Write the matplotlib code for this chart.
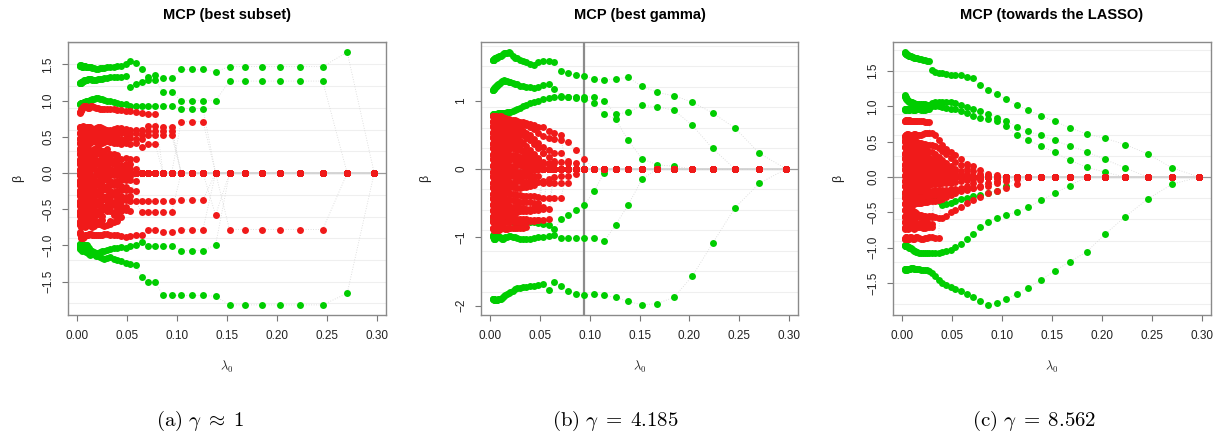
import matplotlib
matplotlib.use("Agg")
import matplotlib.pyplot as plt

plt.rcParams["font.family"] = ["Liberation Sans", "DejaVu Sans"]
plt.rcParams["mathtext.fontset"] = "cm"

GREEN = "#00cd00"
RED = "#f01a1a"

# lambda grid, smallest first; every coefficient path below starts at lambdas[0]
# and is zero for the lambdas after its last listed value
lambdas = [0.0028, 0.0031, 0.0034, 0.0037, 0.0041, 0.0045, 0.0049, 0.0054, 0.0060, 0.0066,
           0.0072, 0.0080, 0.0087, 0.0096, 0.0106, 0.0116, 0.0128, 0.0140, 0.0155, 0.0170,
           0.0187, 0.0206, 0.0227, 0.0249, 0.0274, 0.0301, 0.0332, 0.0365, 0.0401, 0.0441,
           0.0485, 0.0534, 0.0587, 0.0646, 0.0711, 0.0782, 0.0860, 0.0946, 0.1041, 0.1145,
           0.1259, 0.1385, 0.1524, 0.1676, 0.1844, 0.2028, 0.2231, 0.2455, 0.2700, 0.2970]

# ---- (a) best subset ----
green_subset = [
    [1.48, 1.48, 1.49, 1.49, 1.48, 1.48, 1.48, 1.47, 1.47, 1.48, 1.48, 1.48, 1.47, 1.47, 1.47, 1.47, 1.46, 1.46,
     1.45, 1.45, 1.44, 1.44, 1.45, 1.45, 1.45, 1.46, 1.47, 1.47, 1.48,
     1.48, 1.50, 1.55, 1.52, 1.44, 1.33, 1.35, 1.31, 1.31, 1.43, 1.43, 1.43, 1.40, 1.47, 1.47, 1.47, 1.47, 1.47, 1.47, 1.67, 0.0],
    [1.24, 1.24, 1.25, 1.25, 1.25, 1.26, 1.26, 1.26, 1.27, 1.27, 1.28, 1.28, 1.29, 1.29, 1.30, 1.30, 1.30, 1.30,
     1.29, 1.29, 1.29, 1.30, 1.30, 1.30, 1.31, 1.31, 1.32, 1.32, 1.33, 1.33, 1.34,
     1.19, 1.23, 1.26, 1.29, 1.29, 1.12, 1.12, 1.00, 1.00, 1.00, 1.00, 1.27, 1.27, 1.27, 1.27, 1.27, 1.27],
    [0.96, 0.96, 0.96, 0.96, 0.97, 0.97, 0.97, 0.97, 0.97, 0.98, 0.98, 0.98, 0.99, 0.99, 1.00, 1.00, 1.01, 1.01,
     1.02, 1.02, 1.03, 1.03, 1.02, 1.02, 1.01, 1.00, 0.99, 0.98, 0.97, 0.96, 0.95,
     0.93, 0.93, 0.93, 0.93, 0.93, 0.93, 0.93, 0.89, 0.89, 0.89],
    [-1.02, -1.04, -1.05, -1.03, -1.02, -1.05, -1.07, -1.06, -1.05, -1.04, -1.06, -1.08, -1.09, -1.08, -1.10, -1.12,
     -1.13, -1.12, -1.11, -1.12, -1.14, -1.15, -1.16, -1.17, -1.18, -1.17, -1.16, -1.18, -1.20, -1.22, -1.24, -1.25, -1.27,
     -1.43, -1.51, -1.51, -1.69, -1.69, -1.69, -1.69, -1.69, -1.70, -1.82, -1.82, -1.82, -1.82, -1.82, -1.82, -1.66, 0.0],
    [-0.99, -0.98, -0.98, -0.99, -1.00, -1.01, -1.02, -1.03, -1.02, -1.01, -1.00, -0.99, -0.99, -1.00, -1.02, -1.04,
     -1.06, -1.07, -1.08, -1.09, -1.10, -1.10, -1.09, -1.08, -1.07, -1.06, -1.05, -1.04, -1.03, -1.02, -1.03, -1.01, -0.99,
     -0.95, -1.01, -1.01, -1.01, -1.01, -1.07, -1.07, -1.07, -0.99],
]
red_subset = [
    [0.83, 0.84, 0.85, 0.86, 0.87, 0.88, 0.89, 0.90, 0.91, 0.92, 0.93, 0.93, 0.92, 0.91, 0.90, 0.90, 0.91, 0.92,
     0.92, 0.91, 0.90, 0.90, 0.89, 0.89, 0.89, 0.88, 0.88, 0.88, 0.87, 0.87, 0.86, 0.86, 0.85,
     0.83, 0.82, 0.82, 0.0, 0.0, 0.71, 0.71, 0.71],
    [0.62, 0.63, 0.64, 0.63, 0.62, 0.62, 0.63, 0.64, 0.65, 0.64, 0.63, 0.62, 0.62, 0.63, 0.64, 0.64, 0.63, 0.62,
     0.61, 0.61, 0.62, 0.63, 0.63, 0.62, 0.61, 0.60, 0.60, 0.61, 0.62, 0.62, 0.61, 0.60, 0.60,
     0.60, 0.65, 0.65, 0.64, 0.64],
    [0.55, 0.56, 0.56, 0.55, 0.54, 0.54, 0.55, 0.56, 0.57, 0.56, 0.55, 0.54, 0.54, 0.55, 0.56, 0.56, 0.55, 0.54,
     0.53, 0.53, 0.54, 0.55, 0.56, 0.55, 0.54, 0.53, 0.53, 0.54, 0.55, 0.56, 0.55, 0.54, 0.55,
     0.53, 0.58, 0.58, 0.58, 0.58],
    [0.48, 0.47, 0.47, 0.48, 0.49, 0.49, 0.48, 0.47, 0.46, 0.47, 0.48, 0.49, 0.49, 0.48, 0.47, 0.47, 0.48, 0.49,
     0.50, 0.50, 0.49, 0.48, 0.47, 0.48, 0.49, 0.50, 0.50, 0.49, 0.48, 0.47, 0.48, 0.49,
     0.47, 0.47, 0.52, 0.52, 0.52, 0.52],
    [0.42, 0.41, 0.41, 0.42, 0.43, 0.43, 0.42, 0.41, 0.40, 0.41, 0.42, 0.43, 0.43, 0.42, 0.41, 0.41, 0.42, 0.43,
     0.44, 0.44, 0.43, 0.42, 0.41, 0.42, 0.43, 0.44, 0.43, 0.42, 0.41, 0.40, 0.41,
     0.40, 0.41, 0.36, 0.40, 0.40],
    [0.34, 0.33, 0.32, 0.33, 0.35, 0.36, 0.35, 0.33, 0.31, 0.30, 0.31, 0.33, 0.35, 0.36, 0.34, 0.32, 0.30, 0.29,
     0.31, 0.33, 0.35, 0.34, 0.32, 0.30, 0.31, 0.33],
    [0.26, 0.27, 0.28, 0.27, 0.25, 0.24, 0.25, 0.27, 0.28, 0.27, 0.25, 0.24, 0.25, 0.26, 0.28, 0.27, 0.25, 0.24,
     0.23, 0.25, 0.27, 0.28, 0.26, 0.24, 0.23, 0.24, 0.26, 0.27, 0.25],
    [0.19, 0.18, 0.17, 0.18, 0.20, 0.21, 0.20, 0.18, 0.17, 0.18, 0.20, 0.21, 0.20, 0.19, 0.18, 0.17, 0.18, 0.20,
     0.21, 0.20, 0.18, 0.17, 0.18, 0.20, 0.21, 0.20, 0.19, 0.18, 0.19, 0.20, 0.21, 0.20, 0.19],
    [0.12, 0.13, 0.14, 0.13, 0.11, 0.10, 0.11, 0.13, 0.14, 0.13, 0.11, 0.10, 0.11, 0.12, 0.14, 0.13, 0.11, 0.10,
     0.11, 0.13, 0.14, 0.12, 0.11, 0.10, 0.12, 0.13, 0.14, 0.13, 0.12, 0.11, 0.12, 0.13],
    [0.05, 0.04, 0.03, 0.04, 0.06, 0.07, 0.06, 0.04, 0.03, 0.04, 0.06, 0.07, 0.06, 0.05, 0.04, 0.03, 0.04, 0.06,
     0.07, 0.06, 0.04, 0.03, 0.04, 0.05, 0.07, 0.06, 0.05, 0.04, 0.05, 0.06, 0.07, 0.06, 0.05],
    [-0.03, -0.02, -0.01, -0.02, -0.04, -0.05, -0.04, -0.02, -0.01, -0.02, -0.04, -0.05, -0.04, -0.03, -0.02, -0.01,
     -0.02, -0.04, -0.05, -0.04, -0.02, -0.01, -0.02, -0.03, -0.05, -0.04, -0.03, -0.02, -0.03, -0.04, -0.05, -0.04],
    [-0.10, -0.11, -0.12, -0.11, -0.09, -0.08, -0.09, -0.11, -0.12, -0.11, -0.09, -0.08, -0.09, -0.10, -0.12, -0.11,
     -0.09, -0.08, -0.09, -0.11, -0.12, -0.11, -0.10, -0.09, -0.08, -0.10, -0.11, -0.12, -0.11, -0.10, -0.09, -0.10, -0.11],
    [-0.17, -0.16, -0.15, -0.16, -0.18, -0.19, -0.18, -0.16, -0.15, -0.16, -0.18, -0.19, -0.18, -0.17, -0.16, -0.15,
     -0.16, -0.18, -0.19, -0.18, -0.16, -0.15, -0.16, -0.17, -0.19, -0.18, -0.17, -0.16, -0.17, -0.18, -0.19],
    [-0.24, -0.25, -0.26, -0.25, -0.23, -0.22, -0.23, -0.25, -0.26, -0.25, -0.23, -0.22, -0.23, -0.24, -0.26, -0.25,
     -0.23, -0.22, -0.23, -0.25, -0.26, -0.25, -0.24, -0.23, -0.22, -0.24, -0.25, -0.26, -0.25, -0.24, -0.23, -0.24, -0.25,
     -0.38, -0.38, -0.38, -0.38, -0.38, -0.37, -0.37, -0.37],
    [-0.31, -0.30, -0.29, -0.30, -0.32, -0.33, -0.32, -0.30, -0.29, -0.30, -0.32, -0.33, -0.32, -0.31, -0.30, -0.29,
     -0.30, -0.32, -0.33, -0.32, -0.30, -0.29, -0.30, -0.31, -0.33, -0.32, -0.31, -0.30, -0.31, -0.32, -0.33, -0.32],
    [-0.38, -0.39, -0.40, -0.39, -0.37, -0.36, -0.37, -0.39, -0.40, -0.39, -0.37, -0.36, -0.37, -0.38, -0.40, -0.39,
     -0.37, -0.36, -0.37, -0.39, -0.40, -0.39, -0.38, -0.37, -0.36, -0.38, -0.39, -0.40, -0.39, -0.38, -0.37, -0.38, -0.39,
     -0.54, -0.54, -0.54, -0.54, -0.54, 0.0, 0.0, 0.0, -0.58],
    [-0.45, -0.44, -0.43, -0.44, -0.46, -0.47, -0.46, -0.44, -0.43, -0.44, -0.46, -0.47, -0.46, -0.45, -0.44, -0.43,
     -0.44, -0.46, -0.47, -0.46, -0.44, -0.43, -0.44, -0.45, -0.47, -0.46, -0.45, -0.44, -0.45, -0.46, -0.47],
    [-0.52, -0.53, -0.54, -0.53, -0.51, -0.50, -0.51, -0.53, -0.54, -0.53, -0.51, -0.50, -0.51, -0.52, -0.54, -0.53,
     -0.51, -0.50, -0.51, -0.53, -0.54, -0.53, -0.52, -0.51, -0.50, -0.52, -0.53, -0.54, -0.53, -0.52, -0.51, -0.52],
    [-0.59, -0.58, -0.57, -0.58, -0.60, -0.61, -0.60, -0.58, -0.57, -0.58, -0.60, -0.61, -0.60, -0.59, -0.58, -0.57,
     -0.58, -0.60, -0.61, -0.60, -0.58, -0.57, -0.58, -0.59, 0.0, 0.0, 0.0, -0.58, -0.59, -0.60],
    [-0.66, -0.67, -0.68, -0.67, -0.65, -0.64, -0.65, -0.67, -0.68, -0.67, -0.65, -0.64, -0.65, -0.66, -0.68, -0.67,
     -0.65, -0.64, -0.65, -0.67, -0.68, -0.67, -0.66, -0.65, 0.0, 0.0, -0.66, -0.67, -0.66],
    [-0.72, -0.71, -0.70, -0.71, -0.73, -0.74, -0.73, -0.71, -0.70, -0.71, -0.73, -0.74, -0.73, -0.72, -0.71, -0.70,
     -0.71, -0.73, -0.74, -0.73, -0.71, -0.70, -0.71, -0.72, -0.73, -0.72, -0.71],
    [-0.82, -0.83, -0.84, -0.86, -0.88, -0.89, -0.90, -0.90, -0.89, -0.88, -0.87, -0.86, -0.86, -0.85, -0.85, -0.84,
     -0.84, -0.84, -0.85, -0.85, -0.86, -0.86, -0.85, -0.85, -0.84, -0.84, -0.85, -0.86, -0.86, -0.87, -0.88, -0.87, -0.86,
     -0.86, -0.78, -0.78, -0.81, -0.81, -0.78, -0.78, -0.78, 0.0, -0.78, -0.78, -0.78, -0.78, -0.78, -0.78],
]

# ---- (b) best gamma ----
green_best = [
    [1.59, 1.59, 1.60, 1.60, 1.61, 1.61, 1.62, 1.62, 1.63, 1.63, 1.64, 1.64, 1.65, 1.66, 1.66, 1.67, 1.68, 1.69,
     1.69, 1.70, 1.71, 1.69, 1.65, 1.63, 1.62, 1.60, 1.58, 1.56, 1.54, 1.52,
     1.56, 1.58, 1.58, 1.57, 1.44, 1.40, 1.37, 1.36, 1.32, 1.30, 1.32, 1.34, 1.21, 1.12, 1.07, 0.98, 0.82, 0.60, 0.23, 0.0],
    [1.15, 1.16, 1.16, 1.17, 1.17, 1.18, 1.19, 1.20, 1.21, 1.22, 1.23, 1.24, 1.25, 1.26, 1.27, 1.28, 1.29, 1.30,
     1.29, 1.28, 1.27, 1.27, 1.26, 1.25, 1.24, 1.22, 1.21, 1.20, 1.20, 1.19,
     1.20, 1.23, 1.24, 1.17, 1.07, 1.06, 1.06, 1.06, 1.05, 1.00, 0.80, 0.83, 0.93, 0.91, 0.86, 0.64, 0.30],
    [0.79, 0.79, 0.80, 0.80, 0.80, 0.80, 0.81, 0.81, 0.81, 0.81, 0.81, 0.82, 0.82, 0.82, 0.82, 0.82, 0.82, 0.82,
     0.82, 0.83, 0.83, 0.84, 0.85, 0.86, 0.87,
     0.89, 0.92, 0.94, 0.96, 0.98, 1.00, 1.02, 1.04, 1.05, 1.05, 1.05, 1.04, 1.03, 0.97, 0.80, 0.73, 0.42, 0.15, 0.06, 0.04],
    [-1.90, -1.90, -1.91, -1.91, -1.91, -1.92, -1.92, -1.92, -1.92, -1.92, -1.92, -1.91, -1.91, -1.90, -1.90,
     -1.89, -1.87, -1.86, -1.84, -1.83, -1.81, -1.80, -1.78, -1.76, -1.75, -1.74, -1.73, -1.73, -1.72, -1.71,
     -1.70, -1.69, -1.77, -1.65, -1.72, -1.78, -1.83, -1.84, -1.83, -1.85, -1.88, -1.94, -1.99, -1.97, -1.88,
     -1.57, -1.09, -0.57, -0.21, 0.0],
    [-0.97, -0.98, -1.00, -1.01, -1.02, -1.03, -1.02, -1.01, -1.00, -0.99, -0.98, -0.98, -0.99, -1.00, -1.01, -1.02,
     -1.02, -1.01, -1.00, -0.99, -0.98, -0.98, -0.99, -1.00, -1.01, -1.02, -1.03, -1.03, -1.02, -1.01, -1.00, -0.99,
     -0.98, -0.96, -1.01, -1.01, -1.01, -1.01, -1.01, -1.06, -0.82, -0.53, -0.15],
    [-0.71, -0.71, -0.72, -0.72, -0.72, -0.73, -0.73, -0.73, -0.73, -0.74, -0.74, -0.74, -0.74, -0.74, -0.75, -0.75,
     -0.75, -0.75, -0.75, -0.76, -0.76, -0.76, -0.77, -0.77, -0.77, -0.77, -0.78, -0.78, -0.78, -0.78, -0.79,
     -0.80, -0.82, -0.88, -0.74, -0.67, -0.60, -0.53, -0.33, -0.06],
]
red_best = [
    [0.77, 0.77, 0.78, 0.77, 0.76, 0.76, 0.77, 0.78, 0.77, 0.76, 0.75, 0.75, 0.76, 0.77, 0.77, 0.76, 0.75, 0.74,
     0.74, 0.73, 0.73, 0.72, 0.72, 0.71, 0.70,
     0.69, 0.68, 0.67, 0.66, 0.64, 0.62, 0.61, 0.55, 0.53, 0.50, 0.39, 0.27, 0.15],
    [0.70, 0.69, 0.69, 0.70, 0.71, 0.71, 0.70, 0.69, 0.68, 0.69, 0.70, 0.71, 0.71, 0.70, 0.69, 0.68, 0.68, 0.69,
     0.70, 0.70, 0.69, 0.68, 0.67, 0.67, 0.66, 0.66, 0.65, 0.64,
     0.62, 0.58, 0.52, 0.48, 0.45, 0.44, 0.43],
    [0.62, 0.63, 0.63, 0.62, 0.61, 0.61, 0.62, 0.63, 0.64, 0.63, 0.62, 0.61, 0.61, 0.62, 0.63, 0.63, 0.62, 0.61,
     0.60, 0.60, 0.61, 0.61, 0.60, 0.59, 0.58, 0.57, 0.56,
     0.53, 0.49, 0.44, 0.38, 0.32, 0.27, 0.24, 0.24, 0.12],
    [0.54, 0.53, 0.53, 0.54, 0.55, 0.55, 0.54, 0.53, 0.52, 0.53, 0.54, 0.55, 0.55, 0.54, 0.53, 0.52, 0.52, 0.53,
     0.54, 0.54, 0.53, 0.52, 0.52, 0.51, 0.51, 0.50, 0.49,
     0.46, 0.42, 0.36, 0.30, 0.24, 0.18, 0.12, 0.10, 0.09, 0.09],
    [0.46, 0.47, 0.47, 0.46, 0.45, 0.45, 0.46, 0.47, 0.48, 0.47, 0.46, 0.45, 0.45, 0.46, 0.47, 0.47, 0.46, 0.45,
     0.44, 0.44, 0.45, 0.45, 0.44, 0.43, 0.42, 0.41,
     0.38, 0.33, 0.28, 0.22, 0.16, 0.10, 0.06],
    [0.38, 0.37, 0.37, 0.38, 0.39, 0.39, 0.38, 0.37, 0.36, 0.37, 0.38, 0.39, 0.39, 0.38, 0.37, 0.36, 0.36, 0.37,
     0.38, 0.38, 0.37, 0.36, 0.36, 0.35, 0.34,
     0.31, 0.26, 0.20, 0.14, 0.08, 0.04],
    [0.30, 0.31, 0.31, 0.30, 0.29, 0.29, 0.30, 0.31, 0.32, 0.31, 0.30, 0.29, 0.29, 0.30, 0.31, 0.31, 0.30, 0.29,
     0.28, 0.28, 0.29, 0.30, 0.30, 0.29, 0.28, 0.27, 0.26, 0.25,
     0.22, 0.18, 0.14, 0.24],
    [0.22, 0.21, 0.21, 0.22, 0.23, 0.23, 0.22, 0.21, 0.20, 0.21, 0.22, 0.23, 0.23, 0.22, 0.21, 0.20, 0.20, 0.21,
     0.22, 0.22, 0.21, 0.20, 0.20, 0.19, 0.19, 0.18, 0.17,
     0.15, 0.13, 0.11, 0.10],
    [0.14, 0.15, 0.15, 0.14, 0.13, 0.13, 0.14, 0.15, 0.16, 0.15, 0.14, 0.13, 0.13, 0.14, 0.15, 0.15, 0.14, 0.13,
     0.12, 0.12, 0.13, 0.14, 0.14, 0.13, 0.12, 0.12, 0.11, 0.11, 0.10,
     0.10, 0.09, 0.09, 0.09, 0.09],
    [0.06, 0.05, 0.05, 0.06, 0.07, 0.07, 0.06, 0.05, 0.04, 0.05, 0.06, 0.07, 0.07, 0.06, 0.05, 0.04, 0.04, 0.05,
     0.06, 0.06, 0.05, 0.04, 0.04, 0.05, 0.06, 0.06, 0.05, 0.05, 0.04, 0.04],
    [-0.04, -0.05, -0.05, -0.04, -0.03, -0.03, -0.04, -0.05, -0.06, -0.05, -0.04, -0.03, -0.03, -0.04, -0.05, -0.05,
     -0.04, -0.03, -0.02, -0.02, -0.03, -0.04, -0.04, -0.05, -0.05, -0.04, -0.04, -0.03, -0.03, -0.02],
    [-0.12, -0.11, -0.11, -0.12, -0.13, -0.13, -0.12, -0.11, -0.10, -0.11, -0.12, -0.13, -0.13, -0.12, -0.11, -0.10,
     -0.10, -0.11, -0.12, -0.12, -0.11, -0.10, -0.10, -0.11, -0.12, -0.12, -0.11, -0.11, -0.10, -0.10, -0.11,
     -0.17, -0.15, -0.12, -0.10, -0.10, -0.08],
    [-0.20, -0.21, -0.21, -0.20, -0.19, -0.19, -0.20, -0.21, -0.22, -0.21, -0.20, -0.19, -0.19, -0.20, -0.21, -0.21,
     -0.20, -0.19, -0.18, -0.18, -0.19, -0.20, -0.20, -0.19, -0.18, -0.18, -0.19, -0.19, -0.18, -0.18, -0.19,
     -0.20, -0.21, -0.20, -0.20, -0.20],
    [-0.28, -0.27, -0.27, -0.28, -0.29, -0.29, -0.28, -0.27, -0.26, -0.27, -0.28, -0.29, -0.29, -0.28, -0.27, -0.26,
     -0.26, -0.27, -0.28, -0.28, -0.27, -0.26, -0.26, -0.27, -0.28, -0.28, -0.27, -0.26, -0.25, -0.24],
    [-0.36, -0.37, -0.37, -0.36, -0.35, -0.35, -0.36, -0.37, -0.38, -0.37, -0.36, -0.35, -0.35, -0.36, -0.37, -0.37,
     -0.36, -0.35, -0.34, -0.34, -0.35, -0.36, -0.36, -0.37, -0.38, -0.38, -0.39, -0.39, -0.40, -0.40, -0.41,
     -0.42, -0.42, -0.43, -0.43],
    [-0.44, -0.43, -0.43, -0.44, -0.45, -0.45, -0.44, -0.43, -0.42, -0.43, -0.44, -0.45, -0.45, -0.44, -0.43, -0.42,
     -0.42, -0.43, -0.44, -0.44, -0.45, -0.46, -0.46, -0.47, -0.47, -0.48, -0.48, -0.49, -0.49, -0.50, -0.50],
    [-0.52, -0.53, -0.53, -0.52, -0.51, -0.51, -0.52, -0.53, -0.54, -0.53, -0.52, -0.51, -0.51, -0.52, -0.53, -0.53,
     -0.52, -0.51, -0.52, -0.53, -0.54, -0.55, -0.55, -0.56, -0.56, -0.57, -0.57, -0.58, -0.58, -0.57, -0.56, -0.55],
    [-0.61, -0.60, -0.60, -0.61, -0.62, -0.62, -0.61, -0.60, -0.59, -0.60, -0.61, -0.62, -0.62, -0.61, -0.60, -0.59,
     -0.60, -0.61, -0.62, -0.62, -0.63, -0.63, -0.64, -0.64, -0.63, -0.62, -0.62, -0.61, -0.61, -0.60, -0.60, -0.59, -0.58],
    [-0.69, -0.70, -0.70, -0.69, -0.68, -0.68, -0.69, -0.70, -0.71, -0.70, -0.69, -0.68, -0.68, -0.69, -0.70, -0.70,
     -0.69, -0.68, -0.69, -0.70, -0.71, -0.72, -0.72, -0.73, -0.73, -0.74, -0.74, -0.74, -0.75, -0.75, -0.75],
    [-0.77, -0.76, -0.76, -0.77, -0.78, -0.78, -0.77, -0.76, -0.75, -0.76, -0.77, -0.78, -0.78, -0.77, -0.76, -0.75,
     -0.76, -0.77, -0.78, -0.78, -0.77, -0.76, -0.76, -0.77, -0.78, -0.78, -0.77, -0.77, -0.76, -0.76, -0.75, -0.75, -0.74],
    [-0.86, -0.87, -0.88, -0.89, -0.90, -0.90, -0.89, -0.88, -0.87, -0.87, -0.88, -0.89, -0.89, -0.88, -0.87, -0.86,
     -0.86, -0.87, -0.88, -0.88, -0.87, -0.86, -0.86, -0.87, -0.87, -0.86, -0.86, -0.85],
]
best_lambda = 0.0946

# ---- (c) towards the LASSO ----
green_lasso = [
    [1.77, 1.76, 1.76, 1.75, 1.75, 1.74, 1.74, 1.73, 1.73, 1.72, 1.72, 1.71, 1.71,
     1.70, 1.70, 1.69, 1.69, 1.68, 1.68, 1.67, 1.67, 1.66, 1.66, 1.65, 1.65,
     1.51, 1.49, 1.48, 1.47, 1.46, 1.45, 1.44, 1.44, 1.42, 1.40, 1.30, 1.23, 1.17, 1.10, 1.02, 0.95, 0.87, 0.79,
     0.70, 0.61, 0.55, 0.46, 0.33, 0.13, 0.0],
    [1.16, 1.15, 1.14, 1.13, 1.12, 1.11, 1.10, 1.09, 1.08, 1.08, 1.07, 1.07, 1.06, 1.06, 1.05, 1.05, 1.04, 1.04,
     1.04, 1.03, 1.03, 1.03, 1.03, 1.02, 1.02,
     1.05, 1.06, 1.07, 1.07, 1.07, 1.06, 1.05, 1.02, 0.99, 0.96, 0.93, 0.90, 0.84, 0.80, 0.71, 0.65, 0.59, 0.52,
     0.44, 0.36, 0.25, 0.13],
    [0.96, 0.96, 0.95, 0.95, 0.96, 0.96, 0.97, 0.96, 0.96, 0.95, 0.95, 0.96, 0.96, 0.96, 0.95, 0.95, 0.95, 0.96,
     0.96, 0.96, 0.95, 0.95, 0.95, 0.96, 0.96,
     1.00, 1.01, 1.00, 0.99, 0.98, 0.97, 0.96, 0.94, 0.91, 0.87, 0.84, 0.82, 0.80, 0.72, 0.59, 0.53, 0.44, 0.35,
     0.24, 0.14, 0.07],
    [-1.30, -1.30, -1.31, -1.31, -1.30, -1.30, -1.30, -1.31, -1.30, -1.30, -1.30, -1.30, -1.29, -1.29, -1.29, -1.30,
     -1.30, -1.30, -1.30, -1.30, -1.31, -1.31, -1.31, -1.32, -1.33,
     -1.36, -1.40, -1.46, -1.50, -1.53, -1.56, -1.59, -1.62, -1.66, -1.70, -1.76, -1.81, -1.78, -1.72, -1.66,
     -1.57, -1.46, -1.33, -1.20, -1.06, -0.81, -0.56, -0.31, -0.10, 0.0],
    [-0.96, -0.96, -0.97, -0.97, -0.97, -0.98, -0.98, -0.98, -0.99, -0.99, -1.00, -1.00, -1.01, -1.02, -1.03, -1.04,
     -1.05, -1.06, -1.06, -1.07, -1.07, -1.08, -1.08, -1.07, -1.07, -1.08, -1.08, -1.07, -1.06, -1.05, -1.03,
     -0.99, -0.95, -0.88, -0.81, -0.71, -0.63, -0.58, -0.53, -0.50, -0.43, -0.33, -0.23, -0.12],
    [-0.22, -0.22, -0.23, -0.23, -0.23, -0.24, -0.24, -0.24, -0.24, -0.25, -0.25, -0.25, -0.25, -0.25, -0.26, -0.26,
     -0.26, -0.26, -0.27, -0.27, -0.28, -0.28, -0.29, -0.30, -0.31, -0.32, -0.33, -0.34,
     -0.40, -0.38, -0.36, -0.34, -0.31, -0.29, -0.27, -0.26, -0.22, -0.19, -0.12],
]
red_lasso = [
    [0.79, 0.80, 0.80, 0.81, 0.81, 0.80, 0.79, 0.79, 0.80, 0.81, 0.81, 0.80, 0.80, 0.79, 0.79, 0.80, 0.80, 0.80,
     0.79, 0.79, 0.79, 0.79, 0.78, 0.78, 0.78],
    [0.57, 0.58, 0.58, 0.59, 0.59, 0.60, 0.60, 0.61, 0.61, 0.60, 0.59, 0.58, 0.58, 0.59, 0.60, 0.61, 0.61, 0.60,
     0.59, 0.59, 0.60, 0.61, 0.62, 0.62, 0.63, 0.62, 0.60,
     0.52, 0.45, 0.40, 0.35, 0.31, 0.26, 0.19, 0.15, 0.10, 0.05, 0.03],
    [0.50, 0.51, 0.52, 0.51, 0.50, 0.49, 0.50, 0.51, 0.52, 0.51, 0.50, 0.49, 0.49, 0.50, 0.51, 0.52, 0.51, 0.50,
     0.49, 0.48, 0.48, 0.47, 0.47, 0.46, 0.46, 0.45, 0.44,
     0.41, 0.37, 0.32, 0.27, 0.22, 0.17, 0.12, 0.08, 0.04],
    [0.42, 0.43, 0.43, 0.42, 0.41, 0.41, 0.42, 0.43, 0.44, 0.43, 0.42, 0.41, 0.41, 0.42, 0.43, 0.43, 0.42, 0.41,
     0.40, 0.40, 0.39, 0.39, 0.38, 0.37, 0.36, 0.35,
     0.32, 0.28, 0.24, 0.20, 0.16, 0.12, 0.08, 0.05, 0.02],
    [0.34, 0.33, 0.33, 0.34, 0.35, 0.35, 0.34, 0.33, 0.32, 0.33, 0.34, 0.35, 0.35, 0.34, 0.33, 0.32, 0.32, 0.33,
     0.32, 0.31, 0.31, 0.30, 0.29, 0.28, 0.27, 0.26,
     0.24, 0.21, 0.18, 0.15, 0.12, 0.08, 0.05, 0.02],
    [0.26, 0.27, 0.27, 0.26, 0.25, 0.25, 0.26, 0.27, 0.28, 0.27, 0.26, 0.25, 0.25, 0.26, 0.27, 0.27, 0.26, 0.25,
     0.24, 0.24, 0.23, 0.23, 0.22, 0.21, 0.20, 0.19, 0.18,
     0.16, 0.13, 0.10, 0.07, 0.05, 0.02],
    [0.18, 0.17, 0.17, 0.18, 0.19, 0.19, 0.18, 0.17, 0.16, 0.17, 0.18, 0.19, 0.19, 0.18, 0.17, 0.16, 0.16, 0.17,
     0.16, 0.16, 0.15, 0.15, 0.14, 0.14, 0.13, 0.12, 0.11, 0.10,
     0.09, 0.07, 0.05, 0.03, 0.02],
    [0.10, 0.11, 0.11, 0.10, 0.09, 0.09, 0.10, 0.11, 0.12, 0.11, 0.10, 0.09, 0.09, 0.10, 0.11, 0.11, 0.10, 0.09,
     0.09, 0.08, 0.08, 0.08, 0.07, 0.07, 0.06, 0.06, 0.05, 0.05, 0.04,
     0.03, 0.02, 0.01],
    [0.03, 0.02, 0.02, 0.03, 0.04, 0.04, 0.03, 0.02, 0.01, 0.02, 0.03, 0.04, 0.04, 0.03, 0.02, 0.02, 0.03, 0.03,
     0.02, 0.02, 0.02, 0.02, 0.01, 0.01, 0.01, 0.01, 0.01, 0.01, 0.01, 0.01, 0.01],
    [-0.05, -0.06, -0.06, -0.05, -0.04, -0.04, -0.05, -0.06, -0.07, -0.06, -0.05, -0.04, -0.04, -0.05, -0.06, -0.06,
     -0.05, -0.05, -0.05, -0.04, -0.04, -0.04, -0.04, -0.03, -0.03, -0.03, -0.03, -0.02, -0.02, -0.02, -0.02],
    [-0.13, -0.12, -0.12, -0.13, -0.14, -0.14, -0.13, -0.12, -0.11, -0.12, -0.13, -0.14, -0.14, -0.13, -0.12, -0.12,
     -0.13, -0.13, -0.12, -0.12, -0.12, -0.12, -0.11, -0.11, -0.11, -0.10, -0.10, -0.10, -0.09, -0.09,
     -0.08, -0.07, -0.05, -0.04, -0.02],
    [-0.21, -0.22, -0.22, -0.21, -0.20, -0.20, -0.21, -0.22, -0.23, -0.22, -0.21, -0.20, -0.20, -0.21, -0.22, -0.22,
     -0.21, -0.21, -0.20, -0.20, -0.20, -0.20, -0.19, -0.19, -0.19, -0.19, -0.18, -0.18, -0.18,
     -0.18, -0.17, -0.17, -0.16, -0.16, -0.15, -0.14, -0.12, -0.09, -0.06, -0.03],
    [-0.29, -0.28, -0.28, -0.29, -0.30, -0.30, -0.29, -0.28, -0.27, -0.28, -0.29, -0.30, -0.30, -0.29, -0.28, -0.28,
     -0.29, -0.29, -0.28, -0.28, -0.28, -0.28, -0.27, -0.27, -0.27, -0.26, -0.26, -0.26, -0.25,
     -0.24, -0.23, -0.22, -0.20, -0.18, -0.15, -0.12, -0.09, -0.06, -0.03],
    [-0.37, -0.38, -0.38, -0.37, -0.36, -0.36, -0.37, -0.38, -0.39, -0.38, -0.37, -0.36, -0.36, -0.37, -0.38, -0.38,
     -0.37, -0.37, -0.36, -0.36, -0.36, -0.35, -0.35, -0.35, -0.34, -0.34, -0.34, -0.33,
     -0.31, -0.28, -0.25, -0.21, -0.17, -0.13, -0.08, -0.04],
    [-0.46, -0.47, -0.47, -0.46, -0.45, -0.45, -0.46, -0.47, -0.48, -0.47, -0.46, -0.45, -0.46, -0.47, -0.48, -0.49,
     -0.50, -0.51, -0.52, -0.53, -0.54, -0.55, -0.55, -0.56, -0.56, -0.57, -0.57, -0.58,
     -0.58, -0.55, -0.50, -0.46, -0.42, -0.37, -0.33, -0.28, -0.23, -0.19, -0.15, -0.10],
    [-0.55, -0.56, -0.57, -0.56, -0.55, -0.55, -0.56, -0.57, -0.58, -0.57, -0.56, -0.55, -0.55, -0.56, -0.57, -0.57,
     -0.56, -0.55, -0.55, -0.56, -0.57, -0.57, -0.56, -0.56, -0.55, -0.55],
    [-0.64, -0.63, -0.63, -0.64, -0.65, -0.65, -0.64, -0.63, -0.62, -0.63, -0.64, -0.65, -0.65, -0.64, -0.63, -0.63,
     -0.64, -0.65, -0.66, -0.66, -0.65, -0.64, -0.64, -0.65, -0.66, -0.66],
    [-0.71, -0.72, -0.73, -0.72, -0.71, -0.70, -0.71, -0.72, -0.73, -0.72, -0.71, -0.70, -0.70, -0.71, -0.72, -0.73,
     -0.72, -0.71, -0.70, -0.70, -0.71, -0.72, -0.72, -0.71, -0.70, -0.70],
    [-0.86, -0.87, -0.87, -0.86, -0.85, -0.85, -0.86, -0.87, -0.88, -0.87, -0.86, -0.85, -0.85, -0.86, -0.87, -0.87,
     -0.86, -0.85, -0.85, -0.86, -0.87, -0.87, -0.86, -0.86, -0.85, -0.85, -0.86, -0.86],
]

titles = ["MCP (best subset)", "MCP (best gamma)", "MCP (towards the LASSO)"]
captions = [r"$\mathrm{(a)}\ \gamma\;\approx\;1$", r"$\mathrm{(b)}\ \gamma\;=\;4.185$", r"$\mathrm{(c)}\ \gamma\;=\;8.562$"]
x_ticks = [0.00, 0.05, 0.10, 0.15, 0.20, 0.25, 0.30]
x_tick_labels = ["0.00", "0.05", "0.10", "0.15", "0.20", "0.25", "0.30"]
y_ticks_half = [-1.5, -1.0, -0.5, 0.0, 0.5, 1.0, 1.5]
y_labels_half = ["\u22121.5", "\u22121.0", "\u22120.5", "0.0", "0.5", "1.0", "1.5"]
y_ticks_unit = [-2, -1, 0, 1]
y_labels_unit = ["\u22122", "\u22121", "0", "1"]
faint_levels = [-1.8, -1.5, -1.2, -0.9, -0.6, -0.3, 0.3, 0.6, 0.9, 1.2, 1.5, 1.8]

W, H = 1215, 438
axes_x = [(68, 386), (481, 798), (893, 1211)]
axes_top, axes_bottom = 42, 315
ylabel_x = [18, 425, 838]
caption_x = [200, 615, 1034]


def padded(values):
    return list(values) + [0.0] * (len(lambdas) - len(values))


fig = plt.figure(figsize=(W / 100, H / 100), dpi=100)

panels = [
    (green_subset, red_subset, y_ticks_half, y_labels_half, None),
    (green_best, red_best, y_ticks_unit, y_labels_unit, best_lambda),
    (green_lasso, red_lasso, y_ticks_half, y_labels_half, None),
]

for i, (greens, reds, yt, ytl, vline) in enumerate(panels):
    x0, x1 = axes_x[i]
    ax = fig.add_axes([x0 / W, 1 - axes_bottom / H, (x1 - x0) / W, (axes_bottom - axes_top) / H])

    all_vals = [v for p in greens + reds for v in p] + [0.0]
    lo, hi = min(all_vals), max(all_vals)
    ax.set_ylim(lo - 0.04 * (hi - lo), hi + 0.04 * (hi - lo))
    span = lambdas[-1] - lambdas[0]
    ax.set_xlim(lambdas[0] - 0.04 * span, lambdas[-1] + 0.04 * span)

    for lv in faint_levels:
        ax.axhline(lv, color="#efefef", lw=0.8, zorder=0)
    ax.axhline(0, color="#9a9a9a", lw=0.9, zorder=1)
    if vline is not None:
        ax.axvline(vline, color="#8c8c8c", lw=1.6, zorder=1)

    # faint dotted path lines sit beneath the dots
    for path in greens + reds:
        ax.plot(lambdas, padded(path), ls=(0, (1, 2)), color="#d6d6d6", lw=0.6, zorder=1.5)
    for path in greens:
        ax.scatter(lambdas, padded(path), s=25, color=GREEN, linewidths=0, zorder=2)
    for path in reds:
        ax.scatter(lambdas, padded(path), s=25, color=RED, linewidths=0, zorder=3)

    ax.set_xticks(x_ticks)
    ax.set_xticklabels(x_tick_labels)
    ax.set_yticks(yt)
    ax.set_yticklabels(ytl, rotation=90, va="center")
    ax.tick_params(direction="out", length=4, width=0.8, color="#777777",
                   labelsize=8.5, labelcolor="#222222")
    ax.tick_params(axis="x", pad=7)
    ax.tick_params(axis="y", pad=6)
    for sp in ax.spines.values():
        sp.set_color("#8a8a8a")
        sp.set_linewidth(1.0)

    cx = (x0 + x1) / 2 / W
    fig.text(cx, 1 - 15 / H, titles[i], ha="center", va="center", fontsize=10.5, fontweight="bold")
    fig.text(cx, 1 - 367 / H, r"$\lambda_0$", ha="center", va="center", fontsize=9, color="#222222")
    fig.text(ylabel_x[i] / W, 1 - 178 / H, "\u03b2", ha="center", va="center", rotation=90,
             fontsize=9, color="#222222")
    fig.text(caption_x[i] / W, 1 - 421 / H, captions[i], ha="center", va="center", fontsize=15)

fig.savefig("out.png", dpi=100)
